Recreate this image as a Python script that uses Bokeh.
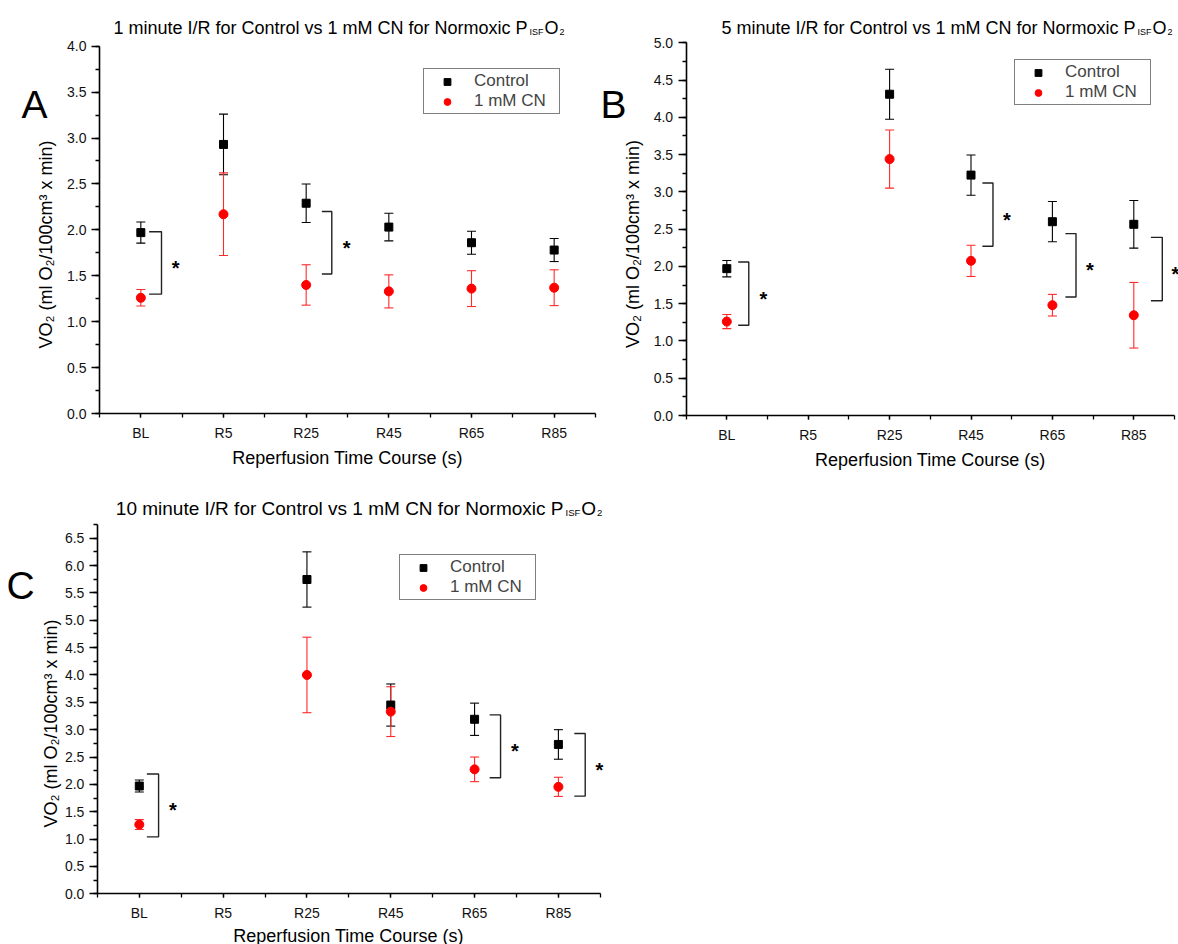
import math
from bokeh.plotting import figure
from bokeh.models import (Range1d, FixedTicker, Whisker, TeeHead, ColumnDataSource,
                          Label, Legend, LegendItem, PrintfTickFormatter)
from bokeh.layouts import row, column
from bokeh.embed import file_html
from bokeh.resources import INLINE
from bokeh.core.properties import value

NaN = float("nan")
FONT = "Liberation Sans"

categories = ["BL", "R5", "R25", "R45", "R65", "R85"]

# Panel A - 1 minute I/R
ctrl_1min = [1.97, 2.93, 2.29, 2.03, 1.86, 1.78]
ctrl_1min_sem = [0.115, 0.33, 0.21, 0.15, 0.125, 0.125]
cn_1min = [1.26, 2.17, 1.40, 1.33, 1.36, 1.37]
cn_1min_sem = [0.09, 0.45, 0.22, 0.18, 0.195, 0.195]
sig_1min_cat = ["BL", "R25"]
sig_1min_top = [1.98, 2.20]
sig_1min_bottom = [1.30, 1.52]

# Panel B - 5 minute I/R
ctrl_5min = [1.97, NaN, 4.31, 3.225, 2.60, 2.565]
ctrl_5min_sem = [0.11, NaN, 0.335, 0.27, 0.27, 0.32]
cn_5min = [1.26, NaN, 3.44, 2.075, 1.48, 1.345]
cn_5min_sem = [0.095, NaN, 0.39, 0.21, 0.145, 0.44]
sig_5min_cat = ["BL", "R45", "R65", "R85"]
sig_5min_top = [2.06, 3.12, 2.44, 2.39]
sig_5min_bottom = [1.21, 2.27, 1.59, 1.54]

# Panel C - 10 minute I/R
ctrl_10min = [1.97, NaN, 5.745, 3.45, 3.19, 2.73]
ctrl_10min_sem = [0.11, NaN, 0.505, 0.385, 0.295, 0.27]
cn_10min = [1.265, NaN, 4.0, 3.33, 2.275, 1.955]
cn_10min_sem = [0.09, NaN, 0.69, 0.455, 0.225, 0.175]
sig_10min_cat = ["BL", "R65", "R85"]
sig_10min_top = [2.19, 3.27, 2.93]
sig_10min_bottom = [1.04, 2.12, 1.785]

series_labels = ["Control", "1 mM CN"]
title_main = ["1 minute I/R for Control vs 1 mM CN for Normoxic P",
              "5 minute I/R for Control vs 1 mM CN for Normoxic P",
              "10 minute I/R for Control vs 1 mM CN for Normoxic P"]
y_label = "VO\u2082 (ml O\u2082/100cm\u00b3 x min)"
x_label = "Reperfusion Time Course (s)"
panel_letters = ["A", "B", "C"]


def valid(vals, errs):
    xs, ys, lo, hi = [], [], [], []
    for i, (v, e) in enumerate(zip(vals, errs)):
        if not (math.isnan(v)):
            xs.append(i + 1)
            ys.append(v)
            lo.append(v - e)
            hi.append(v + e)
    return dict(x=xs, y=ys, lower=lo, upper=hi)


def make_panel(idx, fig_box, frame_px, ymax, ctrl, ctrl_sem, cn, cn_sem,
               sig_cat, sig_top, sig_bot, br_dx, legend_px, title_px, title_fs,
               letter_px, ylab_px, xlab_px):
    fx0, fy0, fw, fh = fig_box
    x05, x65, y0px, ytop_px = frame_px
    ppx = (x65 - x05) / 6.0
    ppy = (y0px - ytop_px) / ymax
    xr = Range1d(0.5 - (x05 - fx0) / ppx, 6.5 + (fx0 + fw - x65) / ppx)
    yr = Range1d(0 - (fy0 + fh - y0px) / ppy, ymax + (ytop_px - fy0) / ppy)

    def S(px, py):
        return px - fx0, fy0 + fh - py

    p = figure(width=fw, height=fh, x_range=xr, y_range=yr, output_backend="svg",
               toolbar_location=None, min_border=0)
    p.outline_line_color = None
    p.grid.visible = False
    p.background_fill_color = "white"
    p.border_fill_color = "white"

    # axes drawn at fixed data locations
    majors = [k * 0.5 for k in range(int(ymax / 0.5 + 1e-9) + 1)]
    minors = [k * 0.25 for k in range(int(round(ymax / 0.25)) + 1)]
    p.yaxis.ticker = FixedTicker(ticks=majors, minor_ticks=minors)
    p.yaxis.formatter = PrintfTickFormatter(format="%.1f")
    p.yaxis.fixed_location = 0.5
    p.yaxis.bounds = (0, ymax)
    p.xaxis.ticker = FixedTicker(ticks=[1, 2, 3, 4, 5, 6],
                                 minor_ticks=[0.5 + 0.5 * k for k in range(13)])
    p.xaxis.major_label_overrides = {i + 1: c for i, c in enumerate(categories)}
    p.xaxis.fixed_location = 0
    p.xaxis.bounds = (0.5, 6.5)
    for ax in (p.xaxis, p.yaxis):
        ax.axis_line_color = "black"
        ax.axis_line_width = 1.6
        ax.major_tick_line_color = "black"
        ax.minor_tick_line_color = "black"
        ax.major_tick_line_width = 1.3
        ax.minor_tick_line_width = 1.3
        ax.major_tick_in = 0
        ax.minor_tick_in = 0
        ax.major_label_text_font = FONT
        ax.major_label_text_font_size = "14px"
        ax.major_label_text_color = "#111111"
    p.yaxis.major_tick_out = 8
    p.yaxis.minor_tick_out = 4
    p.yaxis.major_label_standoff = 5
    p.xaxis.major_tick_out = 4
    p.xaxis.minor_tick_out = 4
    p.xaxis.major_label_standoff = 7

    # error bars + points
    sc = ColumnDataSource(valid(ctrl, ctrl_sem))
    sn = ColumnDataSource(valid(cn, cn_sem))
    for src, col in ((sc, "black"), (sn, "#ff2a2a")):
        w = Whisker(base="x", upper="upper", lower="lower", source=src,
                    dimension="height", line_color=col, line_width=1.1,
                    upper_head=TeeHead(size=9, line_color=col, line_width=1.1),
                    lower_head=TeeHead(size=9, line_color=col, line_width=1.1))
        p.add_layout(w)
    rc = p.scatter("x", "y", source=sc, marker="square", size=8,
                   fill_color="black", line_color="black")
    rn = p.scatter("x", "y", source=sn, marker="circle", size=9,
                   fill_color="#ff0000", line_color="#ff0000")

    # significance brackets
    xs, ys, sx, sy = [], [], [], []
    for cat, top, bot, (d0, d1, ds) in zip(sig_cat, sig_top, sig_bot, br_dx):
        c = categories.index(cat) + 1
        xs.append([c + d0, c + d1, c + d1, c + d0])
        ys.append([top, top, bot, bot])
        sx.append(c + ds)
        sy.append((top + bot) / 2)
    p.multi_line(xs, ys, line_color="#222222", line_width=1.4)
    p.text(x=sx, y=sy, text=["*"] * len(sx), text_font=value(FONT),
           text_font_size="20px", text_font_style="bold", text_align="center",
           text_baseline="middle", y_offset=5, text_color="black")

    # legend
    lx, ly = S(*legend_px)
    leg = Legend(items=[LegendItem(label=series_labels[0], renderers=[rc]),
                        LegendItem(label=series_labels[1], renderers=[rn])],
                 location=(lx, ly), orientation="vertical",
                 border_line_color="black", border_line_width=1.2,
                 background_fill_color="white", background_fill_alpha=1,
                 padding=2, spacing=0, margin=0, glyph_width=42, glyph_height=17,
                 label_height=17, label_width=83, label_standoff=6,
                 label_text_font=FONT, label_text_font_size="17px",
                 label_text_baseline="middle")
    p.add_layout(leg)

    # title pieces
    common = dict(x_units="screen", y_units="screen", text_font=FONT,
                  text_color="black", text_baseline="alphabetic")
    tx, ty = S(*title_px)
    sub = title_fs / 2.0
    p.add_layout(Label(x=tx, y=ty, text=title_main[idx], text_align="right",
                       text_font_size=f"{title_fs}px", **common))
    p.add_layout(Label(x=tx + 2, y=ty - 4, text="ISF", text_align="left",
                       text_font_size=f"{sub}px", **common))
    ox = tx + 3 + 1.556 * sub
    p.add_layout(Label(x=ox, y=ty, text="O", text_align="left",
                       text_font_size=f"{title_fs}px", **common))
    p.add_layout(Label(x=ox + 0.778 * title_fs + 1, y=ty - 4, text="2", text_align="left",
                       text_font_size=f"{sub}px", **common))
    # panel letter
    ax_, ay_ = S(*letter_px)
    p.add_layout(Label(x=ax_, y=ay_, text=panel_letters[idx],
                       text_align="left", text_font_size="39px", **common))
    # axis labels
    lab = dict(x_units="screen", y_units="screen", text_font=FONT,
               text_color="black", text_baseline="middle", text_align="center",
               text_font_size="18px")
    yx, yy = S(*ylab_px)
    p.add_layout(Label(x=yx, y=yy, text=y_label, angle=math.pi / 2, **lab))
    xx, xy = S(*xlab_px)
    p.add_layout(Label(x=xx, y=xy, text=x_label, **lab))
    return p


pA = make_panel(0, (0, 0, 598, 488), (99, 595, 413, 45.7), 4.0,
                ctrl_1min, ctrl_1min_sem, cn_1min, cn_1min_sem,
                sig_1min_cat, sig_1min_top, sig_1min_bottom,
                [(0.10, 0.25, 0.42), (0.19, 0.31, 0.49)],
                (423, 114), (527, 27), 18, (21, 104), (45.5, 244), (347, 457))
pB = make_panel(1, (598, 0, 580, 488), (685.6, 1174, 415, 42.3), 5.0,
                ctrl_5min, ctrl_5min_sem, cn_5min, cn_5min_sem,
                sig_5min_cat, sig_5min_top, sig_5min_bottom,
                [(0.14, 0.27, 0.45), (0.14, 0.27, 0.44), (0.16, 0.29, 0.46), (0.21, 0.35, 0.51)],
                (1014, 105), (1135, 27), 18, (600, 104), (632.5, 243.5), (929.8, 459))
pC = make_panel(2, (0, 488, 604, 456), (96.9, 599.8, 893.3, 524.0), 6.75,
                ctrl_10min, ctrl_10min_sem, cn_10min, cn_10min_sem,
                sig_10min_cat, sig_10min_top, sig_10min_bottom,
                [(0.09, 0.23, 0.40), (0.18, 0.31, 0.48), (0.19, 0.32, 0.49)],
                (399, 600), (563, 508), 19, (6, 585), (50, 723), (348, 935))

layout = column(row(pA, pB), pC)
open("out.html", "w").write(file_html(layout, INLINE))
